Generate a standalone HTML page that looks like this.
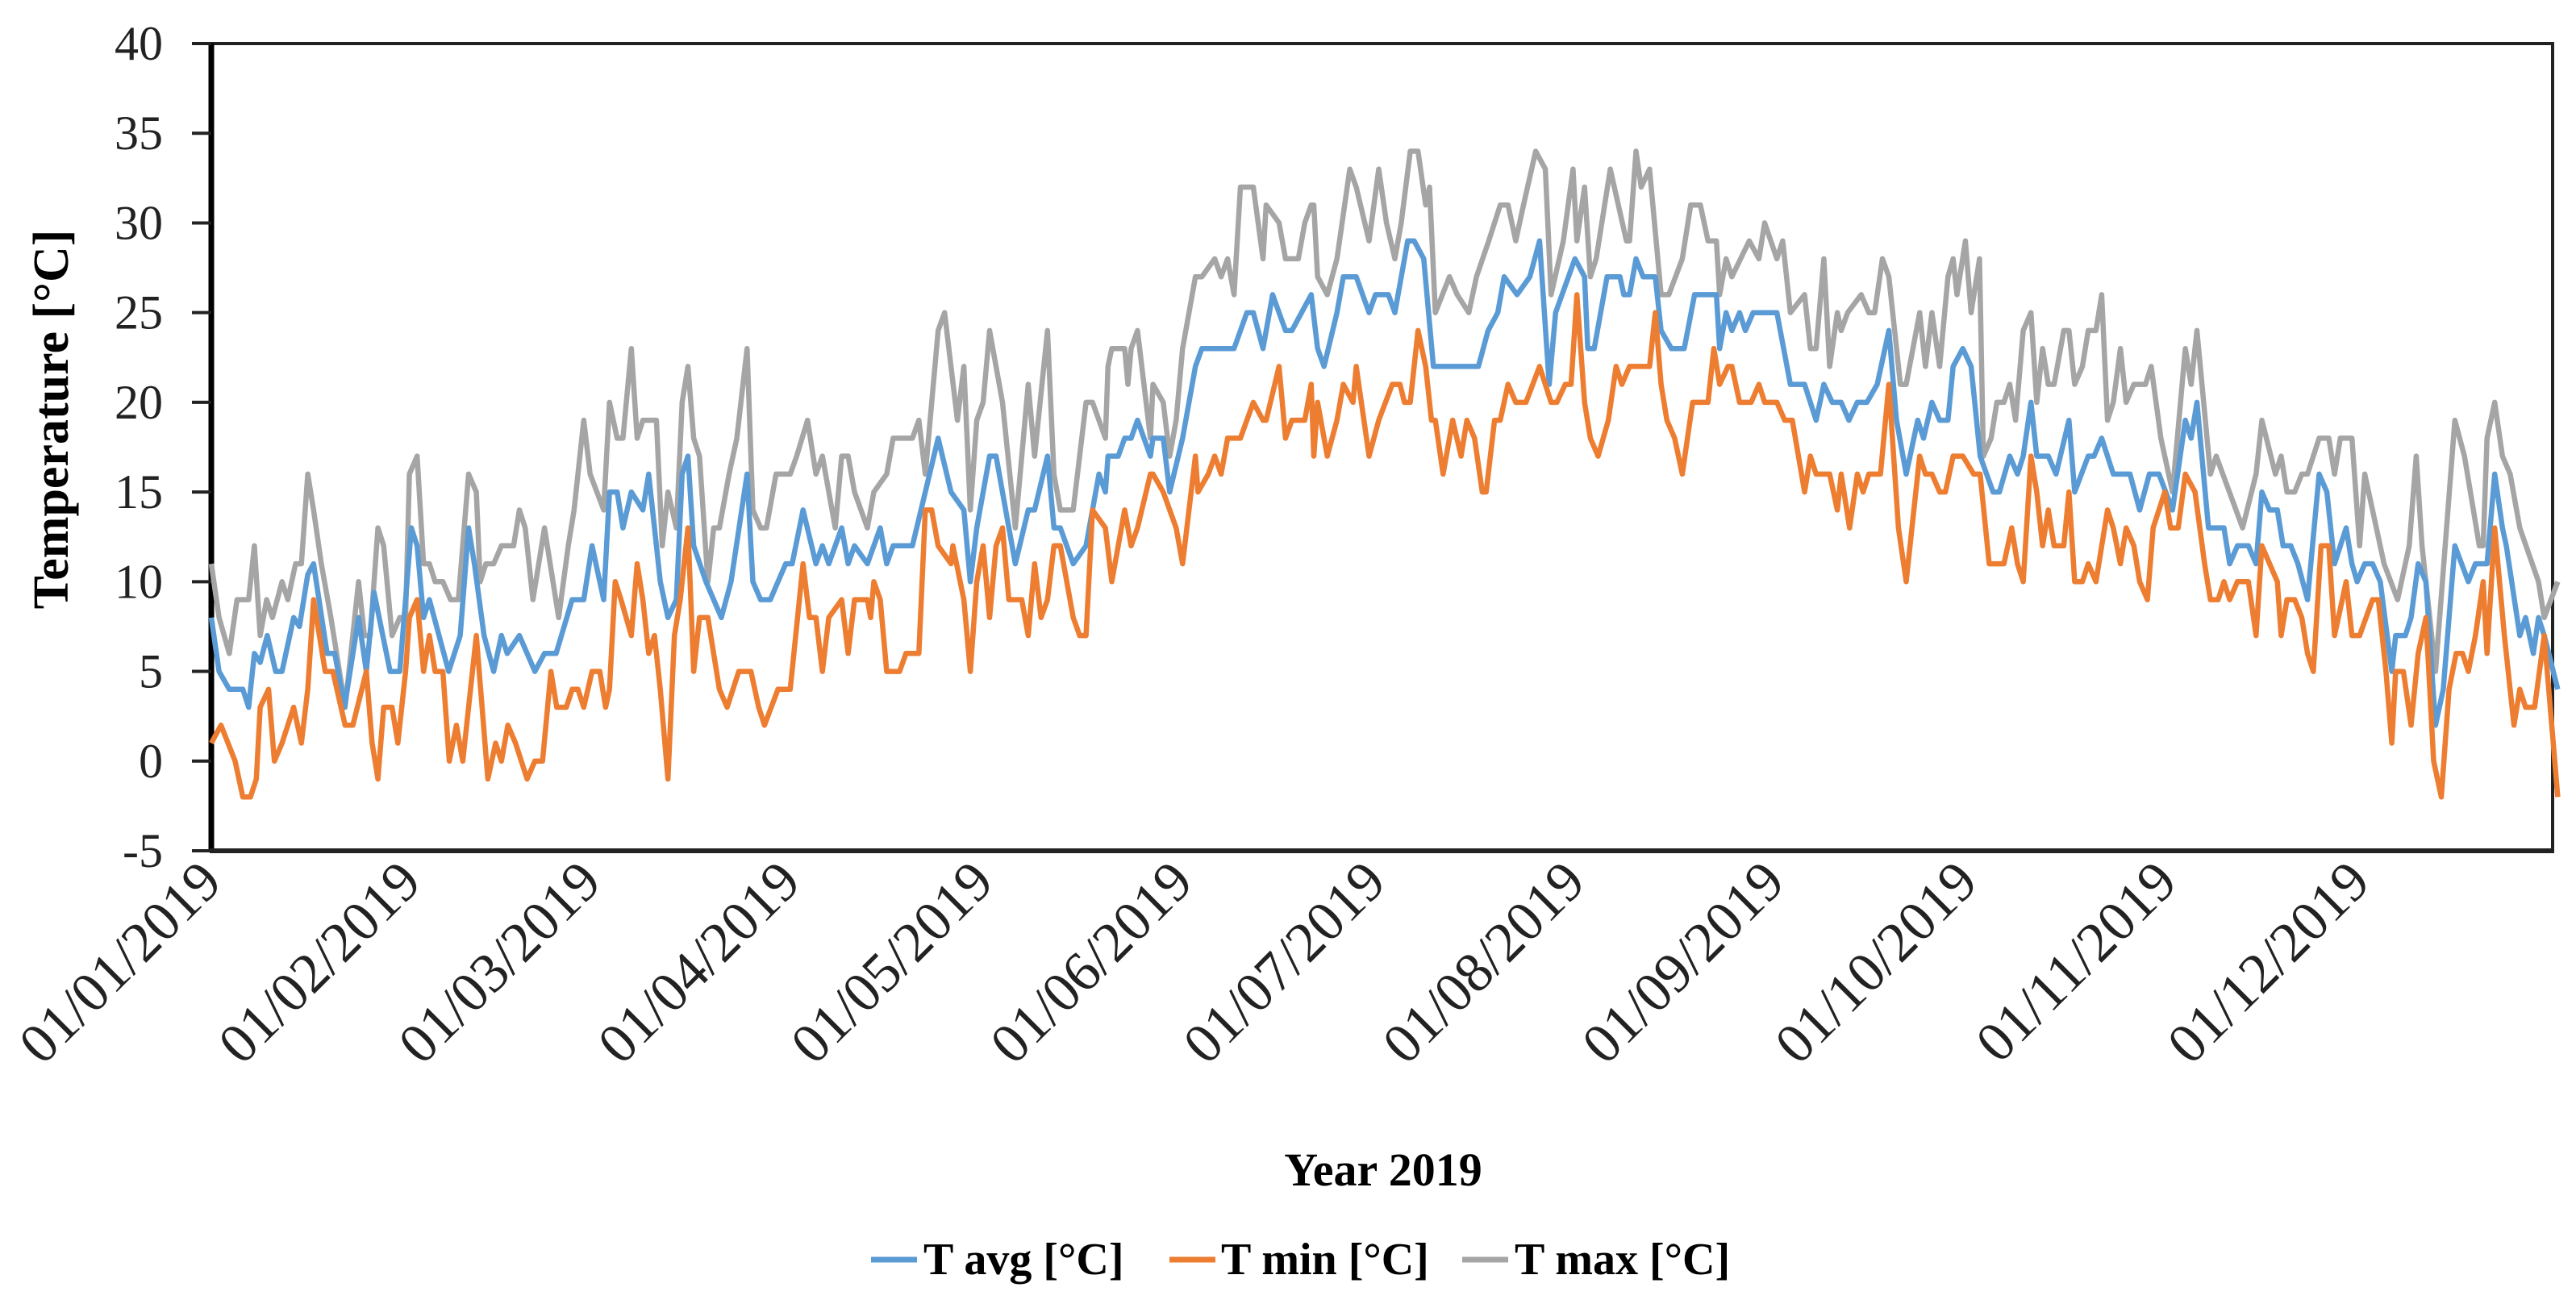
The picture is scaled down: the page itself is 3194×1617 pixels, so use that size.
<!DOCTYPE html>
<html><head><meta charset="utf-8"><style>
html,body{margin:0;padding:0;background:#fff;}
svg{display:block;font-family:"Liberation Serif",serif;}
</style></head><body>
<svg id="chart" width="3194" height="1617" viewBox="0 0 3194 1617">
<g id="axes"></g>
<g id="series"></g>
<text x="84" y="520" transform="rotate(-90 84 520)" text-anchor="middle" font-size="62" font-weight="bold">Temperature [°C]</text>
<text x="1715" y="1470" text-anchor="middle" font-size="58" font-weight="bold">Year 2019</text>
<g>
<g><line x1="1080" y1="1562" x2="1137" y2="1562" stroke="#5B9BD5" stroke-width="7"/><text x="1145" y="1580" font-size="56" font-weight="bold">T avg [°C]</text></g>
<g><line x1="1450" y1="1562" x2="1507" y2="1562" stroke="#ED7D31" stroke-width="7"/><text x="1514" y="1580" font-size="56" font-weight="bold">T min [°C]</text></g>
<g><line x1="1813" y1="1562" x2="1870" y2="1562" stroke="#A5A5A5" stroke-width="7"/><text x="1878" y="1580" font-size="56" font-weight="bold">T max [°C]</text></g>
</g>
</svg>
<script>
const yTicks=[-5,0,5,10,15,20,25,30,35,40];
const monthLabels=["01/01/2019","01/02/2019","01/03/2019","01/04/2019","01/05/2019","01/06/2019","01/07/2019","01/08/2019","01/09/2019","01/10/2019","01/11/2019","01/12/2019"];
const monthDays=[0,31,59,90,120,151,181,212,243,273,304,334];

const avgDays=[0,1.2,2.8,4.9,5.8,6.7,7.6,8.7,10,11,12.8,13.7,15,15.9,18,19.2,20.7,22.9,24.1,25.3,27.8,29.3,31.1,32,33,33.9,36.9,38.7,40,40.9,42.4,43.9,45.1,46,47.9,50.3,51.8,53.6,56.1,57.9,59.2,61,61.9,63.1,64,65.3,67.1,68,69.8,71,72.3,73.2,74.1,75,76.9,78.1,79.3,80.8,83.3,84.2,85.4,86.9,89.3,90.3,92,94,95,96,98,99,100,102,104,105,106,109,111,113,115,117,118,119,121,122,125,127,128,130,131,132,134,136,138,139,139.4,141,142,143,144,146,146.4,148,149,151,153,154,159,161,162,163.5,165,167,168,171,172,173,175,176,178,180,181,182,183,184,186,187,188.5,190,197,198.5,200,201,203,205,206.5,208,209,212,213.5,214,215,217,219,219.6,220.5,221.5,222.6,224.5,225.4,227,229,230.6,234,234.5,235.5,236.4,237.6,238.5,239.7,243.4,245.5,247.7,249.5,250.7,252,253.4,254.6,255.9,257.4,259,260.8,262,263.5,265.3,266.2,267.5,268.7,270,270.8,272.3,273.6,275,277,278,279.6,280.8,281.7,282.9,283.8,285.6,286.8,288.8,289.7,291.8,292.7,293.9,295.7,298.3,299.8,301.3,302.8,304.9,306.9,307.8,308.7,310.5,312.9,313.8,315,316.7,317.9,318.8,320,321.2,322.1,323.3,324.4,325.9,327.7,328.9,330.1,331.9,332.8,333.6,334.8,336,337.2,339,339.6,341.1,342,343.1,344.3,345.8,347,348.8,350.9,352,353.8,355,356.2,356.8,358.9,359.8,361,361.8,362.7,364.8];
const avgVals=[8,5,4,4,3,6,5.5,7,5,5,8,7.5,10.4,11,6,6,3,8,5,9.4,5,5,13,12,8,9,5,7,13,11,7,5,7,6,7,5,6,6,9,9,12,9,15,15,13,15,14,16,10,8,9,16,17,12,10,9,8,10,16,10,9,9,11,11,14,11,12,11,13,11,12,11,13,11,12,12,15,18,15,14,10,13,17,17,11,14,14,17,13,13,11,12,16,15,17,17,18,18,19,17,18,18,15,18,22,23,23,25,25,23,26,24,24,26,23,22,25,27,27,25,26,26,26,25,29,29,28,22,22,24,25,27,26,27,29,21,25,28,27,23,23,27,27,26,26,28,27,27,24,23,23,26,26,23,25,24,25,24,25,25,21,21,19,21,20,20,19,20,20,21,24,19,16,19,18,20,19,19,22,23,22,17,15,15,17,16,17,20,17,17,16,19,15,17,17,18,16,16,14,16,16,14,19,18,20,13,13,11,12,12,11,15,14,14,12,12,11,9,16,15,11,13,11,10,11,11,10,5,7,7,8,11,10,2,4,12,10,11,11,16,13,12,7,8,6,8,7,4];

const minDays=[0,1.5,3.7,4.9,6.1,7,7.6,8.9,9.8,11,12.8,14,15,15.9,17.7,18.9,20.8,22,24.1,25,25.9,26.8,28.1,29,30.2,30.8,32,33,33.9,34.8,36,37,38.1,39.1,41.2,43,44.2,45.1,46.1,47.3,49.1,50.3,51.5,52.8,53.7,55.2,56.1,57,57.9,59.2,60.4,61.3,61.9,62.8,63.7,65.3,66.2,67.1,68,68.9,69.8,71,72,72.9,74.1,75,75.9,77.2,79,80.2,82,83.9,85.1,86,88.1,90,92,93,94,95,96,98,99,100,102,102.5,103,104,105,107,108,110,111,112,113,115,115.3,117,118,119,120,121,122,123,124,126,127,128,129,130,131,132,134,135,136,137,139,140,142,143,144,146,146.4,148,150,151,153,153.4,155,156,157,158,160,162,163.5,164,166,167,168,170,171,171.4,172,173.5,175,176,177.5,178,180,181.5,183.6,184.8,185.5,186.4,187.6,188.8,189.7,190.3,191.5,193,194.3,195.2,196.4,197.6,198.2,199.5,200.4,201.6,202.8,204.4,206.5,208.3,209.2,210.5,211.4,212.3,213.5,214.4,215.6,217.2,218.4,219.3,220.5,223.6,224.5,225.4,226.3,227.5,228.7,230.3,232.7,233.6,234.5,235.8,236.4,237.6,239.4,240.6,241.5,243.4,244.6,245.8,247.7,248.6,249.5,251.6,252.8,253.4,254.7,255.9,256.8,257.7,259.5,260.8,262.3,263.5,265.6,266.5,267.5,268.7,269.6,270.8,272.3,274,275,276.4,278.7,279.9,280.8,281.7,282.9,283.8,284.7,285.6,286.5,288,288.8,289.7,290.9,291.8,293,294.8,295.7,296.8,297.7,298.9,299.8,301,301.9,303.7,304.6,305.8,306.9,308.4,309.9,310.8,312,312.9,313.8,315,316.7,317.9,318.8,321.2,321.8,322.7,323.9,325,325.9,326.8,328,329.2,330.1,331.9,332.8,334,336,336.9,338.1,339,339.6,340.8,342,343.1,344.3,345.5,346.7,347.9,349,350,350.9,352,353.2,353.8,355,356.5,358,358.9,359.8,361.2,362.7,364.8];
const minVals=[1,2,0,-2,-2,-1,3,4,0,1,3,1,4,9,5,5,2,2,5,1,-1,3,3,1,5,8,9,5,7,5,5,0,2,0,7,-1,1,0,2,1,-1,0,0,5,3,3,4,4,3,5,5,3,4,10,9,7,11,9,6,7,4,-1,7,9,13,5,8,8,4,3,5,5,3,2,4,4,11,8,8,5,8,9,6,9,9,8,10,9,5,5,6,6,14,14,12,11,12,9,5,10,12,8,12,13,9,9,7,11,8,9,12,12,8,7,7,14,13,10,14,12,13,16,16,15,13,11,17,15,16,17,16,18,18,20,19,19,22,18,19,19,21,17,20,17,19,21,20,22,17,19,21,21,20,20,24,22,19,19,16,19,17,19,18,15,15,19,19,21,20,20,22,20,20,21,21,26,20,18,17,19,22,21,22,22,25,21,19,18,16,20,20,23,21,22,22,20,20,21,20,20,19,19,15,17,16,16,14,16,13,16,15,16,16,21,13,10,17,16,16,15,15,17,17,16,16,11,11,13,11,10,17,15,12,14,12,12,15,10,10,11,10,14,13,11,13,12,10,9,13,15,13,13,16,15,11,9,9,10,9,10,10,7,12,10,7,9,9,8,6,5,12,12,7,10,7,7,9,9,5,1,5,5,2,6,8,0,-2,4,6,6,5,7,10,6,13,7,2,4,3,3,7,-2];

const maxDays=[0,1.2,2.8,4,5.8,6.7,7.6,8.6,9.5,11,11.9,13.1,14,15,15.9,17.1,18.6,20.8,22.9,23.8,24.7,25.9,26.8,28.1,29.3,30.2,30.8,32,33,33.9,34.8,36,37.2,38.4,40,41.2,41.8,42.7,43.9,45.1,47,47.9,48.8,50,51.8,54,55.5,56.4,57.9,58.9,61,61.9,63.1,64,65.3,66.2,67.1,69.2,70.1,71,72.3,73.2,74.1,75,75.9,77.2,78.1,79,80.5,81.7,83.3,84.2,85.4,86.3,87.8,90,91,92.7,94,95,97,98,99,100,102,103,105,106,109,110,111,113,114,116,117,118,119,120,121,123,125,127,128,130,131,132,134,136,137,139,139.4,140,142,142.5,143,144,146,146.4,148,149,150,151,153,154,156,157,158,159,160,162,163.5,164,166,167,169,170,171,171.4,172,173.5,175,177,178,180,181.5,182.7,184,185,186.4,187.6,188.8,189.4,190.3,192.5,193.7,195.5,196.7,198.6,200.4,201.6,202.8,204,205.9,207.4,208.3,210.2,211.7,212.3,213.5,214.4,215.3,217.5,220,220.5,221.5,222.3,223.6,225.4,226.6,228.7,230,231.5,232.7,234,234.5,235.5,236.4,239.1,240.6,241.5,243.4,244.3,245.5,247.7,248.6,249.5,250.7,251.6,252.8,253.4,254.4,256.5,257.7,258.6,259.8,260.8,262.6,263.5,265.6,266.5,267.5,268.7,270,270.8,271.4,272.7,273.6,274.9,275.5,276.7,277.6,278.7,279.6,280.5,281.7,282.9,283.8,284.7,285.6,286.5,288,288.8,289.7,290.9,291.8,293,293.9,294.8,295.7,296.8,297.7,298.9,300.7,301.6,303.1,304.9,306.9,307.8,308.7,310.8,311.7,315.8,317.9,318.8,320.9,321.8,322.7,323.9,325,325.9,327.7,329.2,330.1,331,332.8,334,334.8,336,337.8,339.9,341.7,342.8,343.7,345.8,348.8,350.3,352.6,353.2,353.8,355,356.2,357.4,358.9,361.8,362.7,364.8];
const maxVals=[11,8,6,9,9,12,7,9,8,10,9,11,11,16,14,11,8,3,10,7,7,13,12,7,8,8,16,17,11,11,10,10,9,9,16,15,10,11,11,12,12,14,13,9,13,8,12,14,19,16,14,20,18,18,23,18,19,19,12,15,13,20,22,18,17,10,13,13,16,18,23,14,13,13,16,16,17,19,16,17,13,17,17,15,13,15,16,18,18,19,16,24,25,19,22,14,19,20,24,20,13,21,17,24,16,14,14,20,20,18,22,23,23,21,23,24,18,21,20,17,19,23,27,27,28,27,28,26,32,32,28,31,30,28,28,30,31,31,27,26,28,33,32,29,33,30,28,30,34,34,31,32,25,27,26,25,27,29,31,31,29,31,34,33,26,29,33,29,32,27,28,33,29,29,34,32,33,26,26,28,31,31,29,29,26,28,27,29,28,30,28,29,25,26,23,23,28,22,25,24,25,26,25,25,28,27,21,21,25,22,25,22,27,28,26,29,25,28,17,18,20,20,21,19,24,25,20,23,21,21,24,24,21,22,24,24,26,19,20,23,20,21,21,22,18,15,23,21,24,16,17,13,16,19,16,17,15,15,16,16,18,18,16,18,18,12,16,14,11,9,12,17,12,5,19,17,12,12,18,20,17,16,13,10,8,10];

const NS="http://www.w3.org/2000/svg";
const X0=262,X1=3165,Y40=54,YM5=1055;
function xs(d){return X0+d*(X1-X0)/364;}
function ys(v){return YM5-(v+5)*(YM5-Y40)/45;}
function mk(tag,attrs,parent){const e=document.createElementNS(NS,tag);for(const k in attrs)e.setAttribute(k,attrs[k]);parent.appendChild(e);return e;}
const axes=document.getElementById('axes');
let frame=mk('rect',{x:X0,y:Y40,width:X1-X0,height:YM5-Y40,fill:'none',stroke:'#222','stroke-width':4},axes);


let ya=mk('line',{x1:X0,y1:Y40,x2:X0,y2:YM5+2,stroke:'#000','stroke-width':7},axes);


let xa=mk('line',{x1:X0-2,y1:YM5,x2:X1+2,y2:YM5,stroke:'#222','stroke-width':6},axes);


yTicks.forEach(v=>{
  const y=ys(v);
  const t=mk('line',{x1:X0-24,y1:y,x2:X0,y2:y,stroke:'#222','stroke-width':4},axes);
  
  
  const l=mk('text',{x:202,y:y+20,'text-anchor':'end','font-size':60,fill:'#222'},axes);
  l.textContent=String(v);
  
  
});
monthDays.forEach((d,i)=>{
  const x=xs(d);
  const l=mk('text',{x:x+16,y:YM5+42,'text-anchor':'end','font-size':70,fill:'#222',transform:`rotate(-45 ${x+16} ${YM5+42})`},axes);
  l.textContent=monthLabels[i];
  
  
});
const sg=document.getElementById('series');
function line(days,vals,color,name){
  const pts=days.map((d,i)=>xs(d).toFixed(1)+','+ys(vals[i]).toFixed(1)).join(' ');
  const p=mk('polyline',{points:pts,fill:'none',stroke:color,'stroke-width':6.5,'stroke-linejoin':'round'},sg);
  
  
}
line(maxDays,maxVals,'#A5A5A5','t-max-line');
line(avgDays,avgVals,'#5B9BD5','t-avg-line');
line(minDays,minVals,'#ED7D31','t-min-line');
</script>
</body></html>
